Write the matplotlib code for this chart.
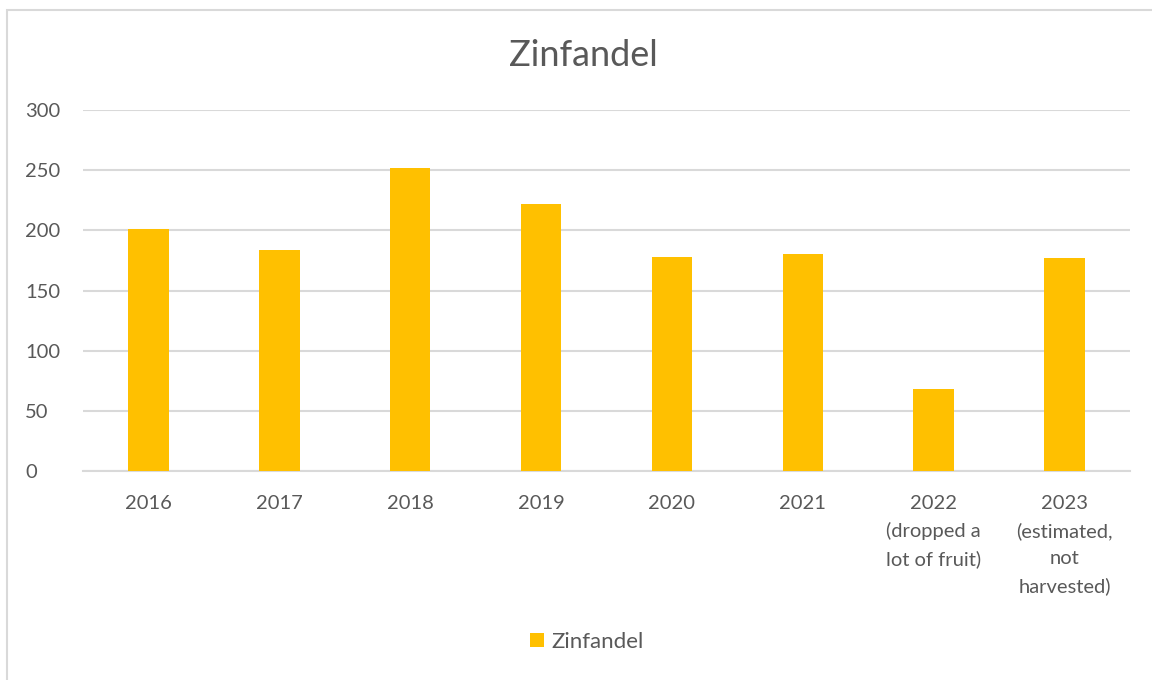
import numpy as np
import matplotlib.pyplot as plt
from matplotlib.patches import Rectangle

# data
categories = ["2016", "2017", "2018", "2019", "2020", "2021",
              "2022\n(dropped a\nlot of fruit)",
              "2023\n(estimated,\nnot\nharvested)"]
values = [201, 184, 252, 222, 178, 180, 68, 177]
yticks = [0, 50, 100, 150, 200, 250, 300]

bar_color = "#FFC000"
text_color = "#595959"
grid_color = "#D9D9D9"

plt.rcParams["font.family"] = ["Lato", "DejaVu Sans"]

fig = plt.figure(figsize=(11.52, 6.8), dpi=100)
W, H = 1152, 680
ax = fig.add_axes([83 / W, 1 - 471 / H, (1130 - 83) / W, (471 - 110) / H])

x = np.arange(len(categories))
ax.bar(x, values, width=0.31, color=bar_color, zorder=3, label="Zinfandel")

ax.set_xlim(-0.5, len(categories) - 0.5)
ax.set_ylim(0, 300)
ax.set_yticks(yticks)
ax.set_xticks(x)
ax.set_xticklabels(categories, fontsize=14.5, color=text_color, linespacing=1.7,
                   va="top")
ax.tick_params(axis="y", labelsize=14.5, labelcolor=text_color, length=0, pad=41.5)
ax.tick_params(axis="x", length=0, pad=17)
for lbl in ax.get_yticklabels():
    lbl.set_horizontalalignment("left")

ax.grid(axis="y", color=grid_color, linewidth=1.5, zorder=0)
for s in ["left", "right", "top"]:
    ax.spines[s].set_visible(False)
ax.spines["bottom"].set_color(grid_color)
ax.spines["bottom"].set_linewidth(1.5)

fig.text(583 / W, 1 - 55 / H, "Zinfandel", fontsize=26, color=text_color,
         ha="center", va="center")

leg = fig.legend(loc="center", bbox_to_anchor=(587 / W, 1 - 642 / H), frameon=False,
                 fontsize=16, handlelength=0.6, handleheight=0.6, handletextpad=0.35,
                 labelcolor=text_color)

# outer chart frame
fig.patches.append(Rectangle((7 / W, -0.1), 1.2, 1 - 10 / H + 0.1,
                             transform=fig.transFigure, fill=False,
                             edgecolor=grid_color, linewidth=1.5))

fig.savefig("out.png", dpi=100)
